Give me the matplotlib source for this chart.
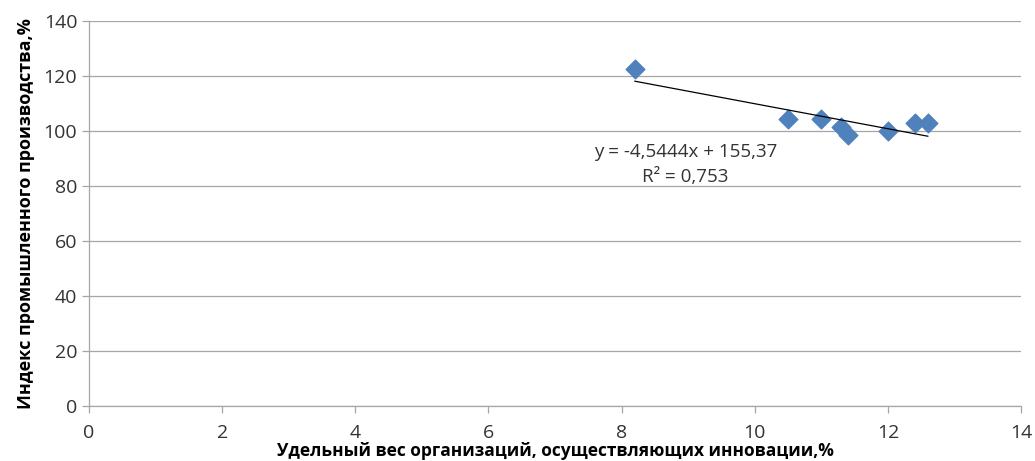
import matplotlib
matplotlib.use('Agg')
import matplotlib.pyplot as plt
import numpy as np

share_innov = [8.2, 10.5, 11.0, 11.3, 11.4, 12.0, 12.4, 12.6]
prod_index = [122.4, 104.4, 104.5, 101.3, 98.5, 100.1, 102.8, 103.0]

# коэффициенты линейного тренда (из подписи)
slope = -4.5444
intercept = 155.37
r2 = 0.753

x_ticks = [0, 2, 4, 6, 8, 10, 12, 14]
y_ticks = [0, 20, 40, 60, 80, 100, 120, 140]

plt.rcParams['font.family'] = ['Open Sans', 'DejaVu Sans']

fig = plt.figure(figsize=(10.35, 4.61), dpi=100)
ax = fig.add_axes([0.086, 0.119, 0.9005, 0.8355])

for y in y_ticks:
    ax.axhline(y, color='#a6a6a6', linewidth=0.9, zorder=0)

ax.scatter(share_innov, prod_index, marker='D', s=90, color='#4f81bd',
           edgecolors='#4f81bd', zorder=3)

xt = np.array([min(share_innov), max(share_innov)])
ax.plot(xt, slope * xt + intercept, color='black', linewidth=0.9, zorder=4)

ax.text(8.96, 92.3, 'y = -4,5444x + 155,37', fontsize=13.5, ha='center',
        va='center', color='#333333')
ax.text(8.96, 83.4, 'R² = 0,753', fontsize=13.5, ha='center', va='center',
        color='#333333')

ax.set_xlim(0, 14)
ax.set_ylim(0, 140)
ax.set_xticks(x_ticks)
ax.set_yticks(y_ticks)
ax.tick_params(axis='both', labelsize=14, colors='#a6a6a6',
               labelcolor='#333333', length=5, width=0.9)
ax.tick_params(axis='x', pad=8)

for side in ['top', 'right']:
    ax.spines[side].set_visible(False)
for side in ['left', 'bottom']:
    ax.spines[side].set_color('#a6a6a6')
    ax.spines[side].set_linewidth(0.9)

ax.set_xlabel('Удельный вес организаций, осуществляющих инновации,%',
              fontsize=12.5, fontweight='bold', labelpad=0)
ax.set_ylabel('Индекс промышленного производства,%', fontsize=13,
              fontweight='bold', labelpad=6)

fig.savefig('out.png', dpi=100)
